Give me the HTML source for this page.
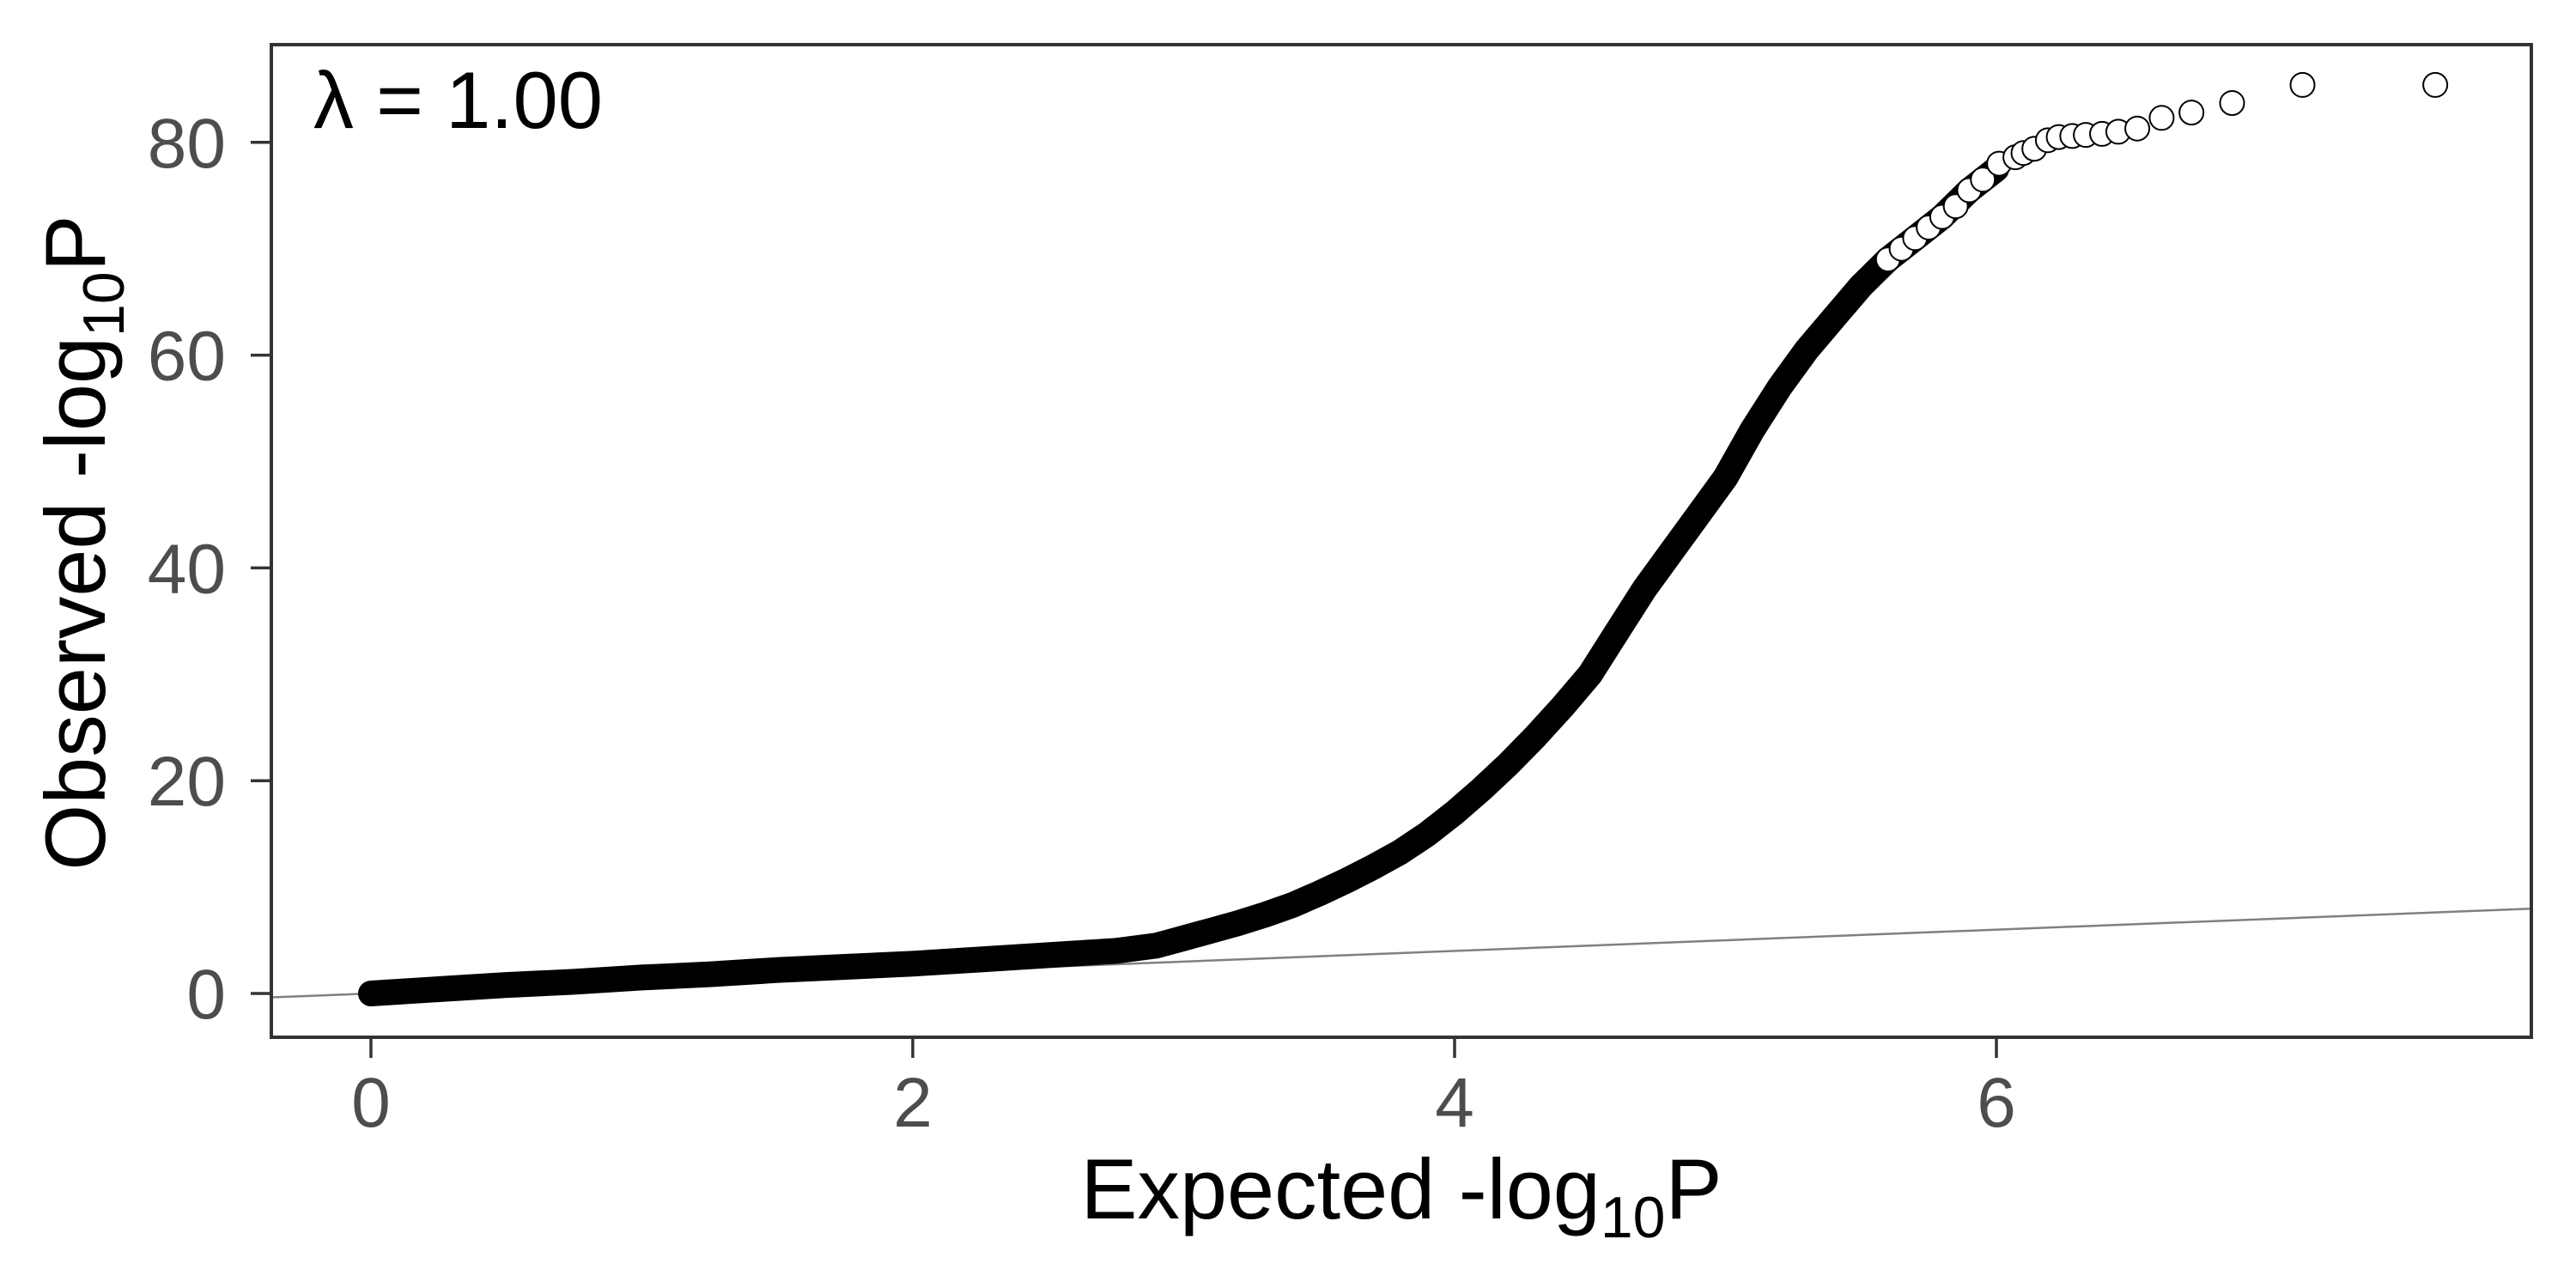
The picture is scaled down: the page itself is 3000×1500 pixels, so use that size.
<!DOCTYPE html>
<html><head><meta charset="utf-8"><style>
html,body{margin:0;padding:0;background:#fff;}
svg{display:block;font-family:"Liberation Sans",Arial,sans-serif;}
</style></head><body>
<svg id="chart" width="3000" height="1500" viewBox="0 0 3000 1500" xmlns="http://www.w3.org/2000/svg">
<rect width="3000" height="1500" fill="#fff"/>
<g id="plot"></g>
</svg>
<script>
// Data
const bandExpected = [0,0.25,0.5,0.75,1,1.25,1.5,1.75,2,2.25,2.5,2.75,2.9,3.0,3.1,3.2,3.3,3.4,3.5,3.6,3.7,3.8,3.9,4.0,4.1,4.2,4.3,4.4,4.5,4.6,4.7,4.8,4.9,5.0,5.1,5.2,5.3,5.4,5.5,5.6,5.7,5.8,5.9,6.0];
const bandObserved = [0,0.4,0.8,1.1,1.5,1.8,2.2,2.5,2.8,3.2,3.6,4.0,4.5,5.2,5.9,6.6,7.4,8.3,9.4,10.6,11.9,13.3,15.0,17.0,19.2,21.6,24.2,27.0,30.0,34.0,38.0,41.5,45.0,48.5,53.0,57.0,60.5,63.5,66.5,69.0,71.0,73.0,75.5,77.5];
const tailExpected = [5.6,5.65,5.7,5.75,5.8,5.85,5.9,5.95,6.01,6.07,6.10,6.14,6.19,6.23,6.28,6.33,6.39,6.45,6.52,6.61,6.72,6.87,7.13,7.62];
const tailObserved = [69.0,70.0,71.0,72.0,73.0,74.0,75.5,76.5,78.0,78.6,79.0,79.4,80.2,80.5,80.6,80.7,80.8,81.0,81.3,82.3,82.8,83.7,85.4,85.4];
const xTicks = [0,2,4,6];
const yTicks = [0,20,40,60,80];
const lambdaLabel = "λ = 1.00";

const P = {left:316, right:2948, top:52, bottom:1208};
const X = v => 432 + v*315.5;
const Y = v => 1157 - v*12.39;
const NS = "http://www.w3.org/2000/svg";
const g = document.getElementById('plot');
function mk(tag, attrs){const e=document.createElementNS(NS,tag);for(const k in attrs)e.setAttribute(k,attrs[k]);return e;}

const defs = mk('defs',{});
const cp = mk('clipPath',{id:'clip'});
cp.appendChild(mk('rect',{x:P.left,y:P.top,width:P.right-P.left,height:P.bottom-P.top}));
defs.appendChild(cp); g.appendChild(defs);

const inner = mk('g',{'clip-path':'url(#clip)'});
g.appendChild(inner);

const ref = mk('line',{x1:X(-1),y1:Y(-1),x2:X(9),y2:Y(9),stroke:'#808080','stroke-width':2.5});


inner.appendChild(ref);

let d = bandExpected.map((v,i)=>(i?'L':'M')+X(v).toFixed(1)+' '+Y(bandObserved[i]).toFixed(1)).join(' ');
const band = mk('path',{d:d,fill:'none',stroke:'#000','stroke-width':30,'stroke-linecap':'round','stroke-linejoin':'round'});


inner.appendChild(band);

tailExpected.forEach((v,i)=>{
  const c = mk('circle',{cx:X(v),cy:Y(tailObserved[i]),r:14,fill:'#fff',stroke:'#000','stroke-width':2});
  
  
  inner.appendChild(c);
});

const border = mk('rect',{x:P.left,y:P.top,width:P.right-P.left,height:P.bottom-P.top,fill:'none',stroke:'#333','stroke-width':4});


g.appendChild(border);

xTicks.forEach(v=>{
  const t = mk('line',{x1:X(v),y1:P.bottom,x2:X(v),y2:P.bottom+24,stroke:'#333','stroke-width':3.5});
  
  
  g.appendChild(t);
  const l = mk('text',{x:X(v),y:1312,'font-size':82,fill:'#4d4d4d','text-anchor':'middle'});
  l.textContent = v;
  
  
  g.appendChild(l);
});
yTicks.forEach(v=>{
  const t = mk('line',{x1:P.left-24,y1:Y(v),x2:P.left,y2:Y(v),stroke:'#333','stroke-width':3.5});
  
  
  g.appendChild(t);
  const l = mk('text',{x:263,y:Y(v)+29,'font-size':82,fill:'#4d4d4d','text-anchor':'end'});
  l.textContent = v;
  
  
  g.appendChild(l);
});

const lam = mk('text',{x:365,y:149,'font-size':94,fill:'#000'});
lam.textContent = lambdaLabel;


g.appendChild(lam);

const xt = mk('text',{x:1632,y:1419,'font-size':99,fill:'#000','text-anchor':'middle'});
xt.innerHTML = 'Expected -log<tspan font-size="68" dy="22">10</tspan><tspan dy="-22">P</tspan>';


g.appendChild(xt);

const yt = mk('text',{x:0,y:0,'font-size':99,fill:'#000','text-anchor':'middle',transform:'translate(122,632) rotate(-90)'});
yt.innerHTML = 'Observed -log<tspan font-size="68" dy="22">10</tspan><tspan dy="-22">P</tspan>';


g.appendChild(yt);
</script>
</body></html>
